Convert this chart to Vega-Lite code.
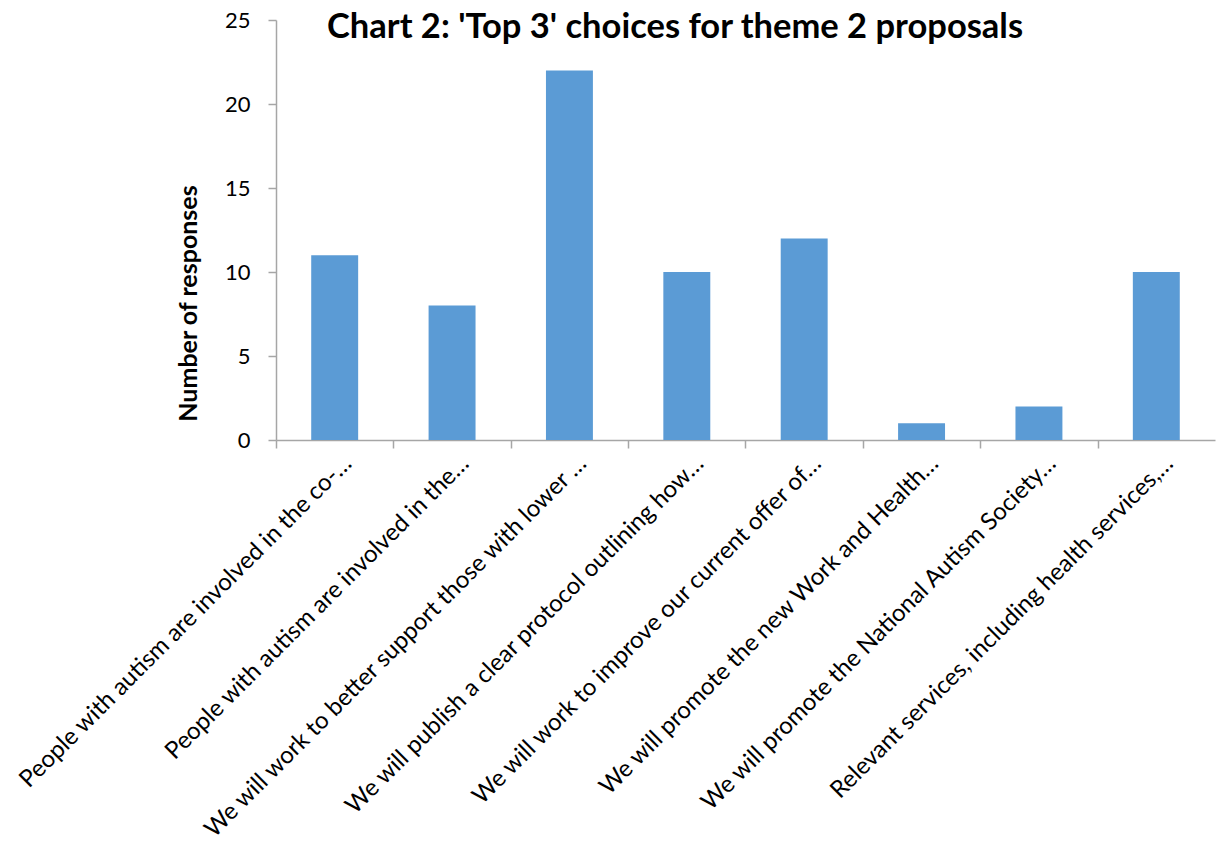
{
  "$schema": "https://vega.github.io/schema/vega-lite/v6.json",
  "autosize": {"type": "none"},
  "width": 939,
  "height": 420,
  "padding": {"left": 276, "top": 20, "right": 4, "bottom": 403},
  "background": "white",
  "title": {
    "text": "Chart 2: 'Top 3' choices for theme 2 proposals",
    "anchor": "start",
    "frame": "group",
    "dx": 51,
    "offset": 0,
    "baseline": "alphabetic",
    "dy": 63,
    "font": "Lato",
    "fontSize": 34.5,
    "fontWeight": "bold",
    "color": "black"
  },
  "data": {
    "values": [
      {"proposal": "People with autism are involved in the co-…", "responses": 11},
      {"proposal": "People with autism are involved in the…", "responses": 8},
      {"proposal": "We will work to better support those with lower …", "responses": 22},
      {"proposal": "We will publish a clear protocol outlining how…", "responses": 10},
      {"proposal": "We will work to improve our current offer of…", "responses": 12},
      {"proposal": "We will promote the new Work and Health…", "responses": 1},
      {"proposal": "We will promote the National Autism Society…", "responses": 2},
      {"proposal": "Relevant services, including health services,…", "responses": 10}
    ]
  },
  "mark": {"type": "bar", "color": "#5B9BD5"},
  "encoding": {
    "x": {
      "field": "proposal",
      "type": "nominal",
      "sort": null,
      "scale": {"paddingInner": 0.6, "paddingOuter": 0.3},
      "axis": {
        "title": null,
        "labelAngle": -45,
        "labelAlign": "right",
        "labelBaseline": "top",
        "labelFont": "Lato",
        "labelFontSize": 24,
        "labelColor": "black",
        "labelLimit": 0,
        "labelPadding": 3,
        "tickOffset": -58.69,
        "labelOffset": 63,
        "tickSize": 8,
        "tickColor": "#A6A6A6",
        "domainColor": "#A6A6A6",
        "domainWidth": 1.5,
        "tickWidth": 1.5
      }
    },
    "y": {
      "field": "responses",
      "type": "quantitative",
      "scale": {"domain": [0, 25], "nice": false},
      "axis": {
        "title": "Number of responses",
        "titleFont": "Lato",
        "titleFontSize": 25,
        "titleFontWeight": "bold",
        "titleColor": "black",
        "titleX": -88,
        "titleY": 283,
        "titleAlign": "center",
        "titleBaseline": "middle",
        "titleAngle": -90,
        "values": [0, 5, 10, 15, 20, 25],
        "grid": false,
        "labelFont": "Lato",
        "labelFontSize": 22,
        "labelColor": "black",
        "labelPadding": 18,
        "tickSize": 8,
        "tickColor": "#A6A6A6",
        "domainColor": "#A6A6A6",
        "domainWidth": 1.5,
        "tickWidth": 1.5
      }
    }
  },
  "config": {"view": {"stroke": null}}
}
